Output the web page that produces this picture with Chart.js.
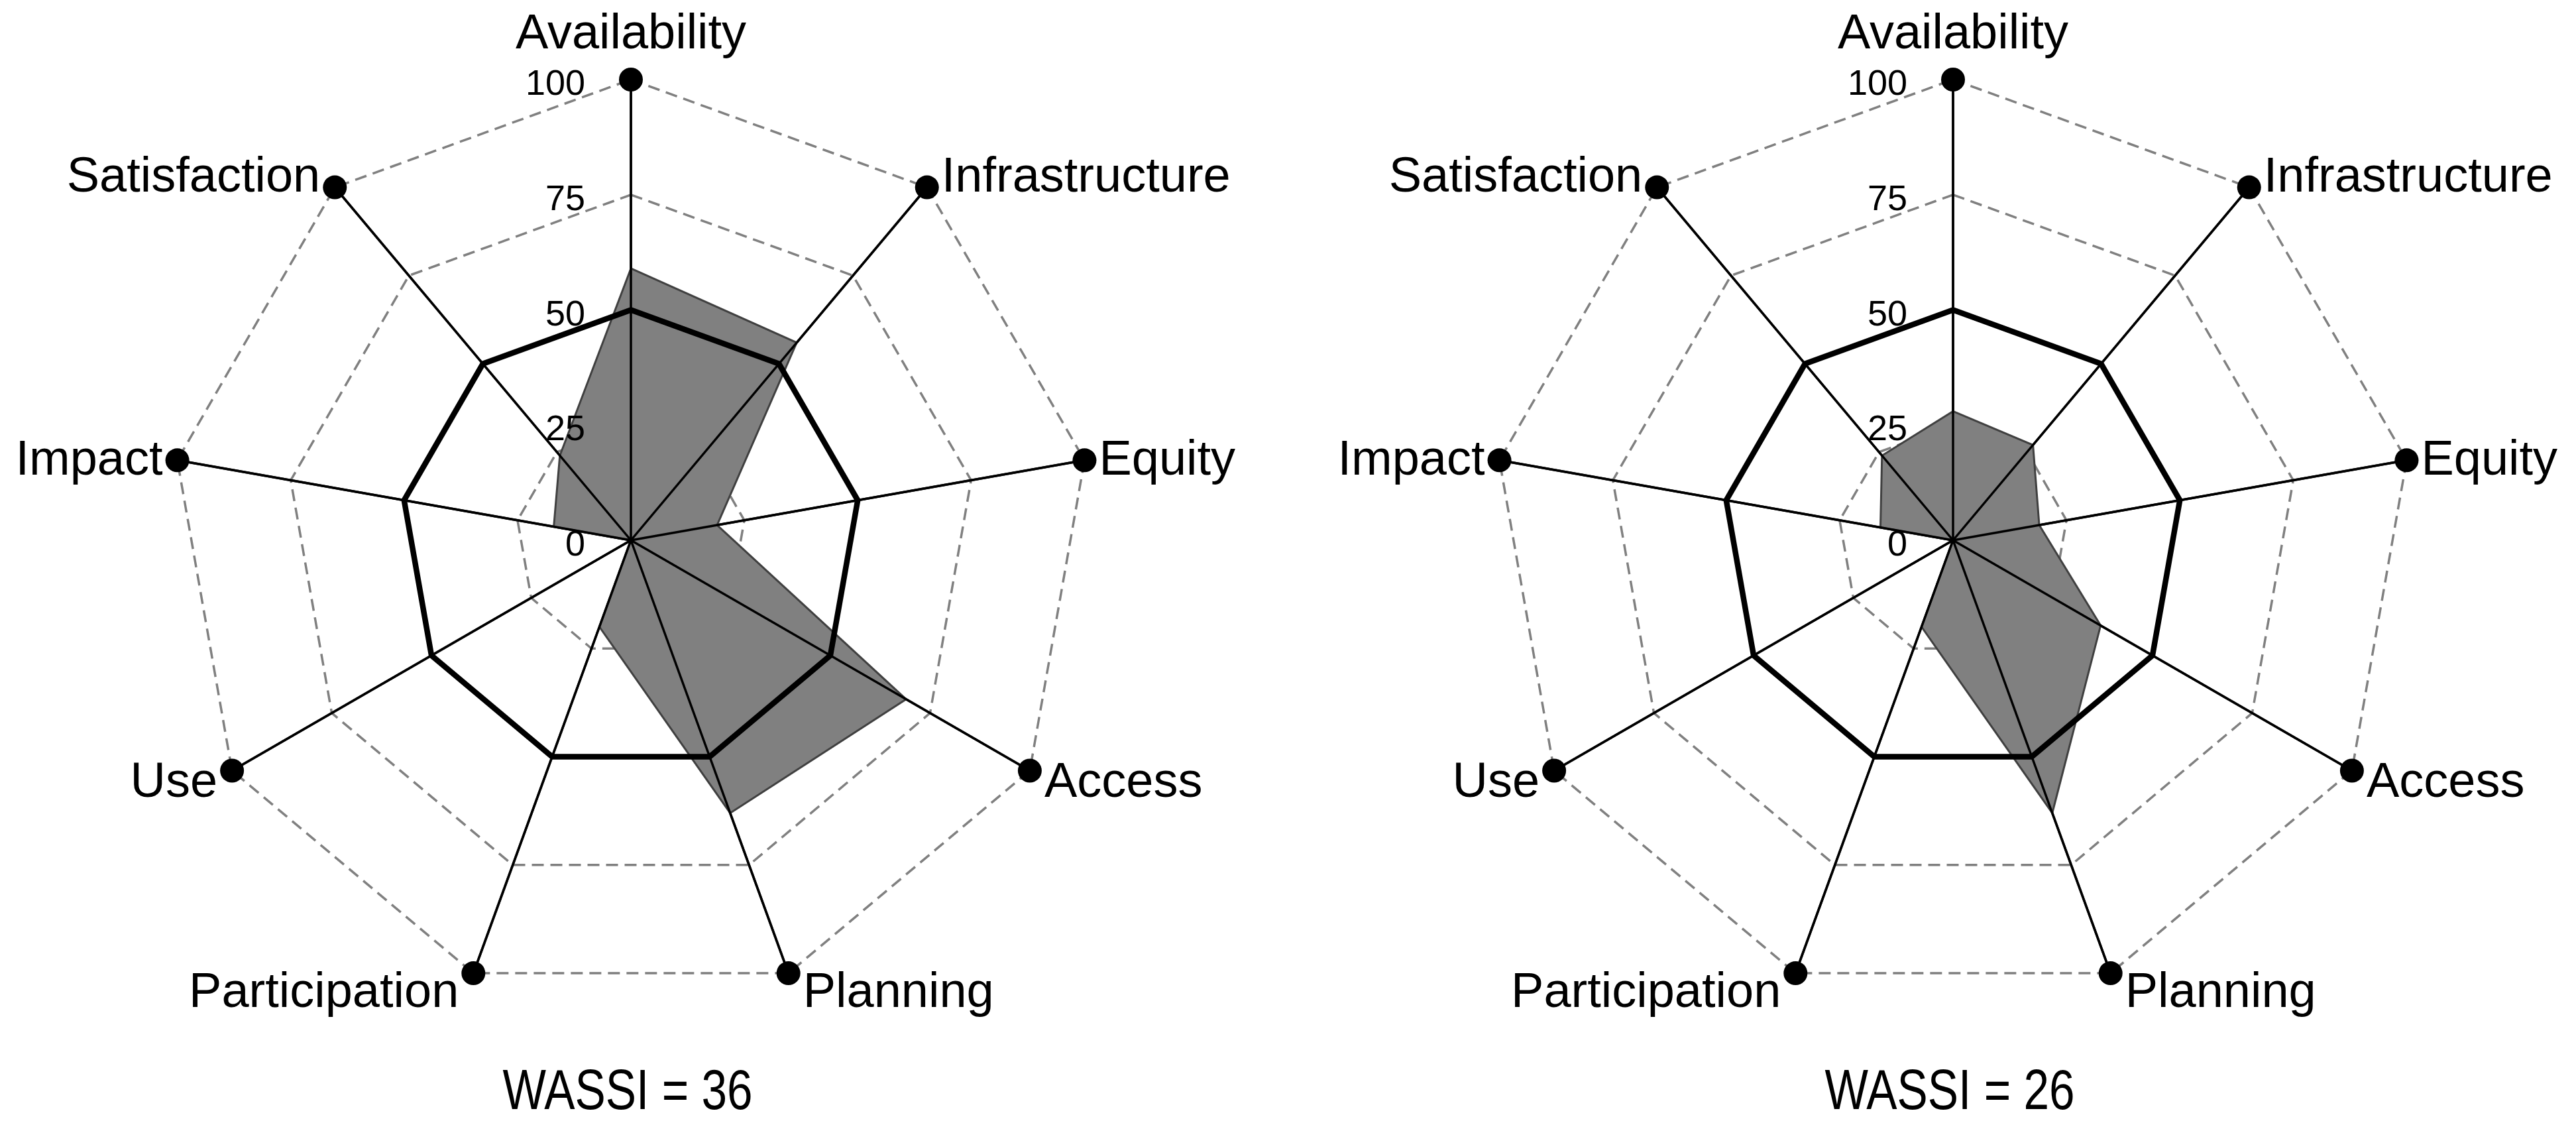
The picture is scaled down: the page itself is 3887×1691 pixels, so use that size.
<!DOCTYPE html>
<html>
<head>
<meta charset="utf-8">
<title>WASSI radar charts</title>
<script src="https://cdn.jsdelivr.net/npm/chart.js@4.4.1/dist/chart.umd.min.js"></script>
<style>
	body { margin: 0; background: #fff; }
	.wrap { position: relative; width: 3887px; height: 1691px; }
	canvas { position: absolute; top: 0; }
</style>
</head>
<body>
<div class="wrap">
	<canvas id="chartLeft" width="1943" height="1691" style="left:0"></canvas>
	<canvas id="chartRight" width="1944" height="1691" style="left:1943px"></canvas>
</div>
<script>
// Dane
const categories = ['Availability', 'Infrastructure', 'Equity', 'Access', 'Planning', 'Participation', 'Use', 'Impact', 'Satisfaction'];
const valuesLeft = [59, 56, 19, 69, 63, 20, 0, 17, 24];
const valuesRight = [28, 27, 19, 37, 63, 20, 0, 16, 24];
const referenceLevel = [50, 50, 50, 50, 50, 50, 50, 50, 50];
const outerLevel = [100, 100, 100, 100, 100, 100, 100, 100, 100];
const tickLabels = [0, 25, 50, 75, 100];
const wassiLeft = 36;
const wassiRight = 26;

const FONT = '"Liberation Sans", Arial, sans-serif';

// Szprychy nad wypełnieniem + podpisy osi, skali i WASSI
const radarText = {
	id: 'radarText',
	afterDatasetsDraw(chart) {
		const r = chart.scales.r;
		const ctx = chart.ctx;
		ctx.save();
		ctx.strokeStyle = '#000';
		ctx.lineWidth = 3.5;
		categories.forEach((c, i) => {
			const p = r.getPointPosition(i, r.drawingArea);
			ctx.beginPath();
			ctx.moveTo(r.xCenter, r.yCenter);
			ctx.lineTo(p.x, p.y);
			ctx.stroke();
		});
		ctx.restore();
	},
	afterDraw(chart, args, opts) {
		const r = chart.scales.r;
		const ctx = chart.ctx;
		const n = categories.length;
		ctx.save();
		ctx.fillStyle = '#000';

		// nazwy osi
		const size = 74;
		ctx.font = size + 'px ' + FONT;
		categories.forEach((label, i) => {
			const angle = (i * 2 * Math.PI) / n;
			const p = r.getPointPosition(i, r.drawingArea);
			if (i === 0) {
				ctx.textAlign = 'center';
				ctx.fillText(label, p.x, p.y - 47);
				return;
			}
			const side = Math.sin(angle) > 0 ? 1 : -1;
			ctx.textAlign = side > 0 ? 'left' : 'right';
			const y = p.y - 26 * Math.cos(angle) + 0.36 * size;
			ctx.fillText(label, p.x + side * 22, y);
		});

		// wartości skali
		ctx.font = '54px ' + FONT;
		ctx.textAlign = 'right';
		tickLabels.forEach((v) => {
			const d = r.getDistanceFromCenterForValue(v);
			ctx.fillText(String(v), r.xCenter - 69, r.yCenter - d + 23);
		});

		// WASSI
		ctx.font = '86px ' + FONT;
		ctx.textAlign = 'center';
		ctx.fillText('WASSI = ' + opts.wassi, r.xCenter - 5, r.yCenter + r.drawingArea + 163, 377);
		ctx.restore();
	},
};

function makeRadar(id, values, wassi, padding) {
	return new Chart(document.getElementById(id), {
		type: 'radar',
		data: {
			labels: categories,
			datasets: [
				{
					data: values,
					backgroundColor: '#808080',
					borderColor: '#404040',
					borderWidth: 3,
					pointRadius: 0,
					fill: 'origin',
					order: 3,
				},
				{
					data: referenceLevel,
					borderColor: '#000',
					borderWidth: 8.5,
					backgroundColor: 'transparent',
					pointRadius: 0,
					fill: false,
					order: 2,
				},
				{
					data: outerLevel,
					borderWidth: 0,
					backgroundColor: 'transparent',
					pointRadius: 18,
					pointHoverRadius: 18,
					pointBackgroundColor: '#000',
					pointBorderWidth: 0,
					fill: false,
					order: 1,
				},
			],
		},
		options: {
			responsive: false,
			animation: false,
			layout: { padding },
			elements: { line: { tension: 0, borderJoinStyle: 'miter' } },
			plugins: {
				legend: { display: false },
				tooltip: { enabled: false },
				radarText: { wassi },
			},
			scales: {
				r: {
					min: 0,
					max: 100,
					ticks: { display: false, stepSize: 25 },
					pointLabels: { display: false },
					grid: { color: '#808080', lineWidth: 3.5 },
					border: { dash: [18, 10] },
					angleLines: { color: '#000', lineWidth: 3.5 },
				},
			},
		},
		plugins: [radarText],
	});
}

makeRadar('chartLeft', valuesLeft, wassiLeft, { left: 257, right: 296, top: 120, bottom: 181 });
makeRadar('chartRight', valuesRight, wassiRight, { left: 309, right: 245, top: 120, bottom: 181 });
</script>
</body>
</html>
